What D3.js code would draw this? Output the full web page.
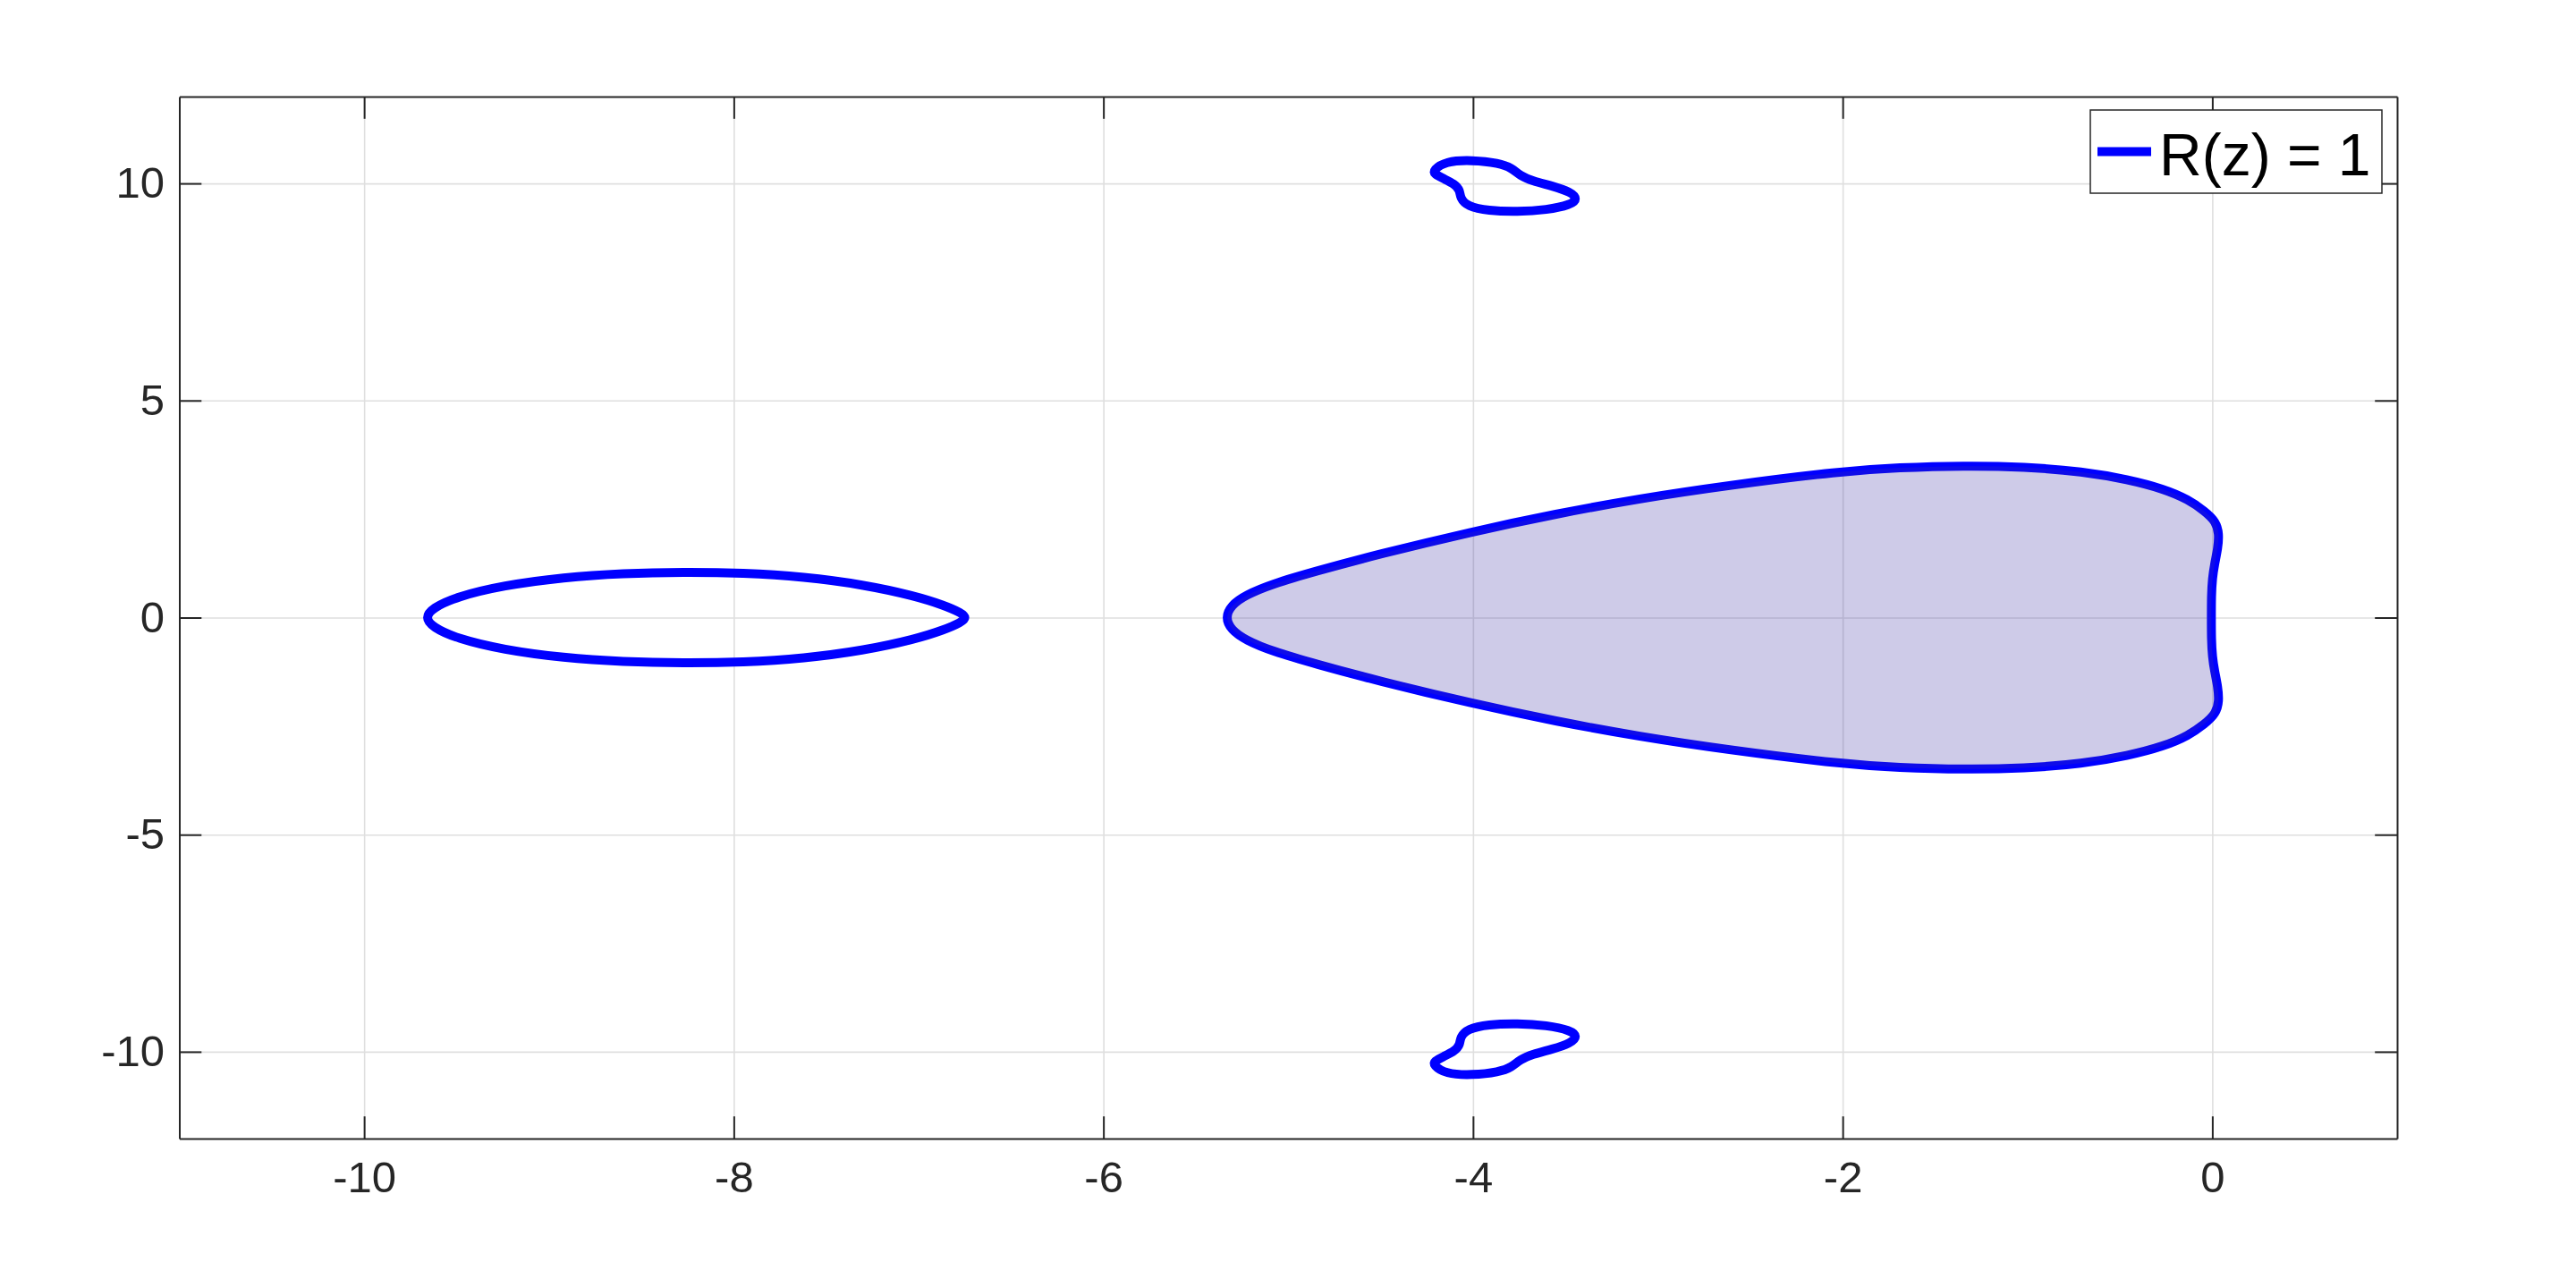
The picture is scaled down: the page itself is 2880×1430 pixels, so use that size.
<!DOCTYPE html>
<html><head><meta charset="utf-8">
<script src="https://cdn.jsdelivr.net/npm/d3@7"></script>
<style>
body{margin:0;background:#fff}
text{font-family:"Liberation Sans",Arial,Helvetica,sans-serif}
</style>
</head><body>
<svg id="c" width="2880" height="1430"></svg>
<script>
// ---- data ----
const xDomain = [-11, 1];
const yDomain = [-12, 12];
const xTicks = [-10, -8, -6, -4, -2, 0];
const yTicks = [-10, -5, 0, 5, 10];
const legendLabel = "R(z) = 1";

// main stability region boundary (closed loop, x = Re z, y = Im z)
const mainContour = [
  [-5.34,0],[-5.31,0.28],[-5.23,0.52],[-5.09,0.77],[-4.85,1.07],[-4.52,1.45],
  [-4.01,1.975],[-3.55,2.39],[-3.10,2.74],[-2.63,3.04],[-2.00,3.375],[-1.70,3.455],
  [-1.34,3.50],[-1.02,3.475],[-0.70,3.365],[-0.455,3.18],[-0.26,2.96],[-0.13,2.72],
  [-0.04,2.45],[0.02,2.21],[0.037,1.93],[0.03,1.59],[0.013,1.25],[0.0,0.90],
  [-0.005,0.49],[-0.005,0],
  [-0.005,-0.49],[0.0,-0.90],[0.013,-1.25],[0.03,-1.59],[0.037,-1.93],[0.02,-2.21],
  [-0.04,-2.45],[-0.13,-2.72],[-0.26,-2.96],[-0.455,-3.18],[-0.70,-3.365],[-1.02,-3.475],
  [-1.34,-3.50],[-1.70,-3.455],[-2.00,-3.375],[-2.63,-3.04],[-3.10,-2.74],[-3.55,-2.39],
  [-4.01,-1.975],[-4.52,-1.45],[-4.85,-1.07],[-5.09,-0.77],[-5.23,-0.52],[-5.31,-0.28]
];

// left closed oval
const ovalContour = [
  [-9.67,0],[-9.63,0.22],[-9.50,0.48],[-9.25,0.74],[-8.92,0.93],[-8.60,1.02],
  [-8.27,1.05],[-7.95,1.03],[-7.62,0.94],[-7.30,0.76],[-7.02,0.50],[-6.86,0.28],
  [-6.77,0.11],[-6.74,0],
  [-6.77,-0.11],[-6.86,-0.28],[-7.02,-0.50],[-7.30,-0.76],[-7.62,-0.94],[-7.95,-1.03],
  [-8.27,-1.05],[-8.60,-1.02],[-8.92,-0.93],[-9.25,-0.74],[-9.50,-0.48],[-9.63,-0.22]
];

// small loop near +10i
const topLoop = [
  [-4.215,10.305],[-4.15,10.51],[-4.005,10.54],[-3.86,10.47],[-3.79,10.355],
  [-3.745,10.18],[-3.68,10.06],[-3.57,9.94],[-3.47,9.80],[-3.435,9.645],
  [-3.47,9.51],[-3.60,9.39],[-3.76,9.345],[-3.92,9.37],[-4.03,9.47],
  [-4.07,9.665],[-4.07,9.84],[-4.10,9.99],[-4.16,10.11],[-4.21,10.22]
];

// small loop near -10i
const bottomLoop = [
  [-4.215,-10.305],[-4.15,-10.51],[-4.005,-10.54],[-3.86,-10.47],[-3.79,-10.355],
  [-3.745,-10.18],[-3.68,-10.06],[-3.57,-9.94],[-3.47,-9.80],[-3.435,-9.645],
  [-3.47,-9.51],[-3.60,-9.39],[-3.76,-9.345],[-3.92,-9.37],[-4.03,-9.47],
  [-4.07,-9.665],[-4.07,-9.84],[-4.10,-9.99],[-4.16,-10.11],[-4.21,-10.22]
];

// ---- drawing ----
const svg = d3.select("#c");
svg.append("rect").attr("width",2880).attr("height",1430).attr("fill","#fff");

const L = 200.5, R = 2680, T = 108, B = 1273;
const x = d3.scaleLinear().domain(xDomain).range([L, R]);
const y = d3.scaleLinear().domain(yDomain).range([B, T]);
const axisColor = "#262626";
const tickLen = 24.8;

// grid
const grid = svg.append("g");
grid.append("g").attr("transform",`translate(0,${B})`)
  .call(d3.axisBottom(x).tickValues(xTicks).tickSize(-(B-T)).tickFormat(""))
  .call(g=>{g.select(".domain").remove();
    g.selectAll("line").attr("stroke","#dfdfdf").attr("stroke-width",1.6);});
grid.append("g").attr("transform",`translate(${L},0)`)
  .call(d3.axisLeft(y).tickValues(yTicks).tickSize(-(R-L)).tickFormat(""))
  .call(g=>{g.select(".domain").remove();
    g.selectAll("line").attr("stroke","#dfdfdf").attr("stroke-width",1.6);});

const line = d3.line().x(d=>x(d[0])).y(d=>y(d[1])).curve(d3.curveBasisClosed);

const blue = "#0000ff";
const sw = 10;
[ovalContour, topLoop, bottomLoop, mainContour].forEach(c=>{
  svg.append("path").attr("d", line(c)).attr("fill","none")
    .attr("stroke", blue).attr("stroke-width", sw).attr("stroke-linejoin","round");
});
// translucent fill of the main region drawn over its boundary
svg.append("path").attr("d", line(mainContour))
  .attr("fill","rgb(59,47,163)").attr("fill-opacity",0.25).attr("stroke","none");

// axes
const fmt = d => String(d);
const styleAxis = (g)=>{
  g.select(".domain").attr("stroke",axisColor).attr("stroke-width",2);
  g.selectAll(".tick line").attr("stroke",axisColor).attr("stroke-width",2);
  g.selectAll("text").attr("fill",axisColor).attr("font-size",49)
    .attr("font-family",'"Liberation Sans",Arial,Helvetica,sans-serif');
};
svg.append("g").attr("transform",`translate(0,${B})`)
  .call(d3.axisBottom(x).tickValues(xTicks).tickSizeInner(-tickLen).tickSizeOuter(0).tickPadding(25).tickFormat(fmt))
  .call(styleAxis);
svg.append("g").attr("transform",`translate(0,${T})`)
  .call(d3.axisTop(x).tickValues(xTicks).tickSizeInner(-tickLen).tickSizeOuter(0).tickFormat(""))
  .call(styleAxis);
svg.append("g").attr("transform",`translate(${L},0)`)
  .call(d3.axisLeft(y).tickValues(yTicks).tickSizeInner(-tickLen).tickSizeOuter(0).tickPadding(16.5).tickFormat(fmt))
  .call(styleAxis);
svg.append("g").attr("transform",`translate(${R},0)`)
  .call(d3.axisRight(y).tickValues(yTicks).tickSizeInner(-tickLen).tickSizeOuter(0).tickFormat(""))
  .call(styleAxis);

// legend
const lg = svg.append("g");
lg.append("rect").attr("x",2337).attr("y",123).attr("width",326).attr("height",93)
  .attr("fill","#fff").attr("stroke",axisColor).attr("stroke-width",1.5);
lg.append("line").attr("x1",2345).attr("x2",2405).attr("y1",169.5).attr("y2",169.5)
  .attr("stroke",blue).attr("stroke-width",sw);
lg.append("text").attr("x",2414).attr("y",196).attr("font-size",66).attr("fill","#000")
  .text(legendLabel);
</script>
</body></html>
